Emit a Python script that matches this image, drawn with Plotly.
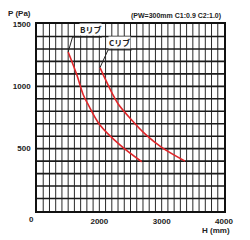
import plotly.graph_objects as go

# Data
b_h = [1500, 1640, 1740, 1820, 2010, 2330, 2680]
b_p = [1275, 1090, 935, 855, 690, 530, 395]
c_h = [2010, 2200, 2300, 2500, 2750, 3000, 3375]
c_p = [1150, 950, 860, 740, 610, 510, 400]

x_ticks = [1000, 2000, 3000, 4000]
x_labels = ["", "2000", "3000", "4000"]
y_ticks = [500, 1000, 1500]
y_labels = ["500", "1000", "1500"]

RED = "#e0262a"
FONT = "Liberation Sans"
JFONT = "Noto Sans CJK JP"

fig = go.Figure()
fig.add_trace(go.Scatter(x=b_h, y=b_p, mode="lines", line=dict(color=RED, width=1.6, shape="spline"),
                         showlegend=False, hoverinfo="skip"))
fig.add_trace(go.Scatter(x=c_h, y=c_p, mode="lines", line=dict(color=RED, width=1.6, shape="spline"),
                         showlegend=False, hoverinfo="skip"))

# Minor grid lines (100 mm / 100 Pa)
shapes = []
for v in range(1100, 4000, 100):
    shapes.append(dict(type="line", xref="x", yref="paper", x0=v, x1=v, y0=0, y1=1,
                       line=dict(color="#2a2a2a", width=1), layer="below"))
for v in range(100, 1500, 100):
    shapes.append(dict(type="line", xref="paper", yref="y", x0=0, x1=1, y0=v, y1=v,
                       line=dict(color="#1a1a1a", width=1.6), layer="below"))

# Leader lines for the labels
shapes.append(dict(type="path", xref="x", yref="y",
                   path=f"M {b_h[0]},{b_p[0]} L 1570,1395 L 2040,1395",
                   line=dict(color="#222", width=1)))
shapes.append(dict(type="path", xref="x", yref="y",
                   path=f"M {c_h[0]},{c_p[0]} L 2140,1292 L 2520,1292",
                   line=dict(color="#222", width=1)))

def bold(lst):
    return [f"<b>{t}</b>" if t else "" for t in lst]

fig.update_layout(
    width=250, height=240,
    margin=dict(l=37, r=26, t=24, b=29),
    paper_bgcolor="white", plot_bgcolor="white",
    shapes=shapes,
    xaxis=dict(range=[1000, 4000], tickvals=x_ticks, ticktext=bold(x_labels), showgrid=False,
               zeroline=False, showline=True, mirror=True, linecolor="#111", linewidth=1.5,
               ticks="", tickfont=dict(family=FONT, size=8, color="#222"), ticklabelstandoff=2),
    yaxis=dict(range=[0, 1500], tickvals=y_ticks, ticktext=bold(y_labels), showgrid=False,
               zeroline=False, showline=True, mirror=True, linecolor="#111", linewidth=1.5,
               ticks="", tickfont=dict(family=FONT, size=8, color="#222"), ticklabelstandoff=3),
    annotations=[
        dict(text="<b>0</b>", xref="paper", yref="paper", x=-0.027, y=-0.012, showarrow=False,
             xanchor="center", yanchor="top", font=dict(family=FONT, size=8, color="#222")),
        dict(text="<b>P (Pa)</b>", xref="paper", yref="paper", x=-0.165, y=1.02, showarrow=False,
             xanchor="left", yanchor="bottom", font=dict(family=FONT, size=8, color="#222")),
        dict(text="<b>H (mm)</b>", xref="paper", yref="paper", x=1.045, y=-0.07, showarrow=False,
             xanchor="right", yanchor="top", font=dict(family=FONT, size=8, color="#222")),
        dict(text="<b>(PW=300mm C1:0.9 C2:1.0)</b>", xref="paper", yref="paper", x=0.995, y=1.01,
             showarrow=False, xanchor="right", yanchor="bottom",
             font=dict(family=FONT, size=7, color="#222")),
        dict(text="<b>Bリブ</b>", xref="x", yref="y", x=1860, y=1400, showarrow=False,
             xanchor="center", yanchor="bottom", bgcolor="white", borderpad=0,
             font=dict(family=JFONT, size=8, color="#222")),
        dict(text="<b>Cリブ</b>", xref="x", yref="y", x=2330, y=1297, showarrow=False,
             xanchor="center", yanchor="bottom", bgcolor="white", borderpad=0,
             font=dict(family=JFONT, size=8, color="#222")),
    ],
)

fig.write_html("out.html")
